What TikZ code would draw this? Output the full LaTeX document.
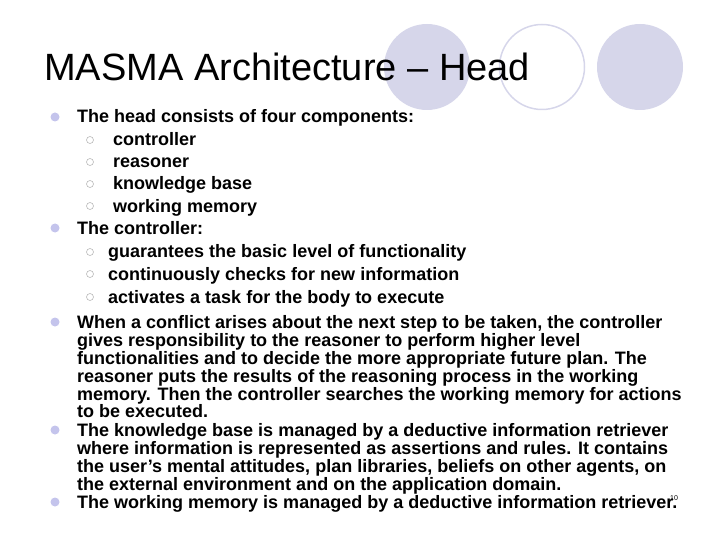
\documentclass[tikz,border=0pt]{standalone}
\usepackage{fontspec}
\setmainfont{Liberation Sans}
\begin{document}
\begin{tikzpicture}[x=1pt,y=-1pt,
 l1/.style={anchor=base west,inner sep=0,font=\bfseries\fontsize{18}{18}\selectfont},
 b1/.style={circle,fill=bul,inner sep=0,minimum size=9pt},
 b2/.style={circle,draw=gray!55,line width=0.6pt,inner sep=0,minimum size=7pt}]
\definecolor{circ}{HTML}{D6D6EA}
\definecolor{bul}{HTML}{C4C4EC}
\useasboundingbox (0,0) rectangle (720,540);
\fill[circ] (427,67) circle (43);
\draw[circ,line width=1.5pt] (542,67) circle (42.5);
\fill[circ] (640,67) circle (43);
\node[anchor=base west,inner sep=0,font=\fontsize{38}{38}\selectfont] (title) at (44,81) {MASMA Architecture -- Head};
\foreach \y/\n in {117/a,228/b,322/c,430/d,502/e}{\node[b1] (p\n) at (55,\y) {};}
\foreach \y/\n/\xx in {140/a/90,162/b/90,184/c/90,206/d/90,252/e/90,274/f/90,297/g/90}{\node[b2] (q\n) at (\xx,\y) {};}
\node[l1] (t1) at (77,123) {The head consists of four components:};
\node[l1] (t2) at (113,146) {controller};
\node[l1] (t3) at (113,168) {reasoner};
\node[l1] (t4) at (113,190) {knowledge base};
\node[l1] (t5) at (113,212) {working memory};
\node[l1] (t6) at (77,234) {The controller:};
\node[l1] (t7) at (108,258) {guarantees the basic level of functionality};
\node[l1] (t8) at (108,280) {continuously checks for new information};
\node[l1] (t9) at (108,303) {activates a task for the body to execute};
\node[l1] (t10) at (77,328) {When a conflict arises about the next step to be taken, the controller};
\node[l1] (t11) at (77,346) {gives responsibility to the reasoner to perform higher level};
\node[l1] (t12) at (77,364) {functionalities and to decide the more appropriate future plan. The};
\node[l1] (t13) at (77,382) {reasoner puts the results of the reasoning process in the working};
\node[l1] (t14) at (77,400) {memory. Then the controller searches the working memory for actions};
\node[l1] (t15) at (77,417) {to be executed.};
\node[l1] (t16) at (77,436) {The knowledge base is managed by a deductive information retriever};
\node[l1] (t17) at (77,454) {where information is represented as assertions and rules. It contains};
\node[l1] (t18) at (77,472) {the user's mental attitudes, plan libraries, beliefs on other agents, on};
\node[l1] (t19) at (77,490) {the external environment and on the application domain.};
\node[l1] (t20) at (77,508) {The working memory is managed by a deductive information retriever.};
\node[anchor=base west,inner sep=0,font=\fontsize{7}{7}\selectfont] (pg) at (670,500) {10};
\end{tikzpicture}
\end{document}
